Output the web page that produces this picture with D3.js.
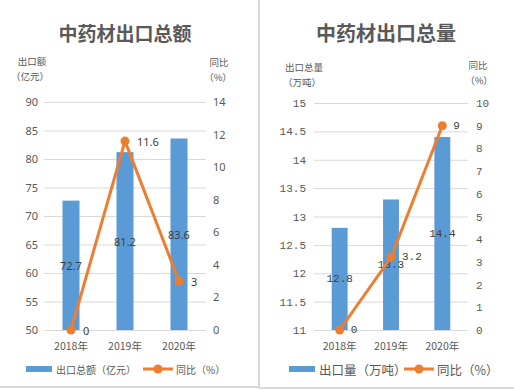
<!DOCTYPE html>
<html><head><meta charset="utf-8">
<script src="https://cdn.jsdelivr.net/npm/d3@7"></script>
<style>
html,body{margin:0;padding:0;background:#fff;}
svg{display:block;}
</style></head>
<body>
<script>
const years = ["2018年", "2019年", "2020年"];
const exportValue = [72.7, 81.2, 83.6];
const valueYoY = [0, 11.6, 3];
const exportVolume = [12.8, 13.3, 14.4];
const volumeYoY = [0, 3.2, 9];
const valueTicks = [50, 55, 60, 65, 70, 75, 80, 85, 90];
const valueYoYTicks = [0, 2, 4, 6, 8, 10, 12, 14];
const volumeTicks = [11, 11.5, 12, 12.5, 13, 13.5, 14, 14.5, 15];
const volumeYoYTicks = [0, 1, 2, 3, 4, 5, 6, 7, 8, 9, 10];

const W = 514, H = 390;
const BLUE = "#5B9BD5", ORANGE = "#ED7D31", GRID = "#D9D9D9", TXT = "#595959";
const CJK = "'Noto Sans CJK SC','Noto Sans',sans-serif";

const svg = d3.select("body").append("svg").attr("width", W).attr("height", H);

// panel borders
svg.append("line").attr("x1", 259).attr("x2", 259).attr("y1", 0).attr("y2", 389)
  .attr("stroke", GRID).attr("stroke-width", 2);
svg.append("line").attr("x1", 0).attr("x2", 259).attr("y1", 387).attr("y2", 387)
  .attr("stroke", GRID).attr("stroke-width", 2);
svg.append("line").attr("x1", 259).attr("x2", 514).attr("y1", 388).attr("y2", 388)
  .attr("stroke", GRID).attr("stroke-width", 2);

function drawChart(cfg) {
  const g = svg.append("g");
  const x = d3.scaleBand().domain(years).range([cfg.x0, cfg.x1]).padding(0);
  const yL = d3.scaleLinear().domain(cfg.lDomain).range([cfg.yBottom, cfg.yTop]);
  const yR = d3.scaleLinear().domain(cfg.rDomain).range([cfg.yBottom, cfg.yTop]);
  const numFont = cfg.numFont;

  // title
  g.append("text").attr("x", cfg.titleX).attr("y", 32).attr("text-anchor", "middle")
    .attr("dominant-baseline", "central")
    .style("font-family", CJK).style("font-size", cfg.titleSize + "px").style("font-weight", "bold")
    .attr("fill", TXT).text(cfg.title);

  // axis titles
  cfg.axisTitles.forEach(t => {
    g.append("text").attr("x", t.x).attr("y", t.y).attr("text-anchor", "middle")
      .attr("dominant-baseline", "central")
      .style("font-family", CJK).style("font-size", t.size + "px")
      .attr("fill", TXT).text(t.text);
  });

  // gridlines via axis
  const gridAxis = d3.axisLeft(yL).tickValues(cfg.lTicks).tickSize(-(cfg.x1 - cfg.x0)).tickFormat("");
  const gg = g.append("g").attr("transform", `translate(${cfg.x0},0)`).call(gridAxis);
  gg.select(".domain").remove();
  gg.selectAll(".tick line").attr("stroke", GRID).attr("stroke-width", 1);

  // left labels
  const la = d3.axisLeft(yL).tickValues(cfg.lTicks).tickSize(0).tickPadding(0)
    .tickFormat(d => String(d));
  const lg = g.append("g").attr("transform", `translate(${cfg.lLabelX},0)`).call(la);
  lg.select(".domain").remove();
  lg.selectAll("text").style("font-family", numFont).style("font-size", cfg.tickSize + "px").attr("fill", TXT);

  // right labels
  const ra = d3.axisRight(yR).tickValues(cfg.rTicks).tickSize(0).tickPadding(0)
    .tickFormat(d => String(d));
  const rg = g.append("g").attr("transform", `translate(${cfg.rLabelX},0)`).call(ra);
  rg.select(".domain").remove();
  rg.selectAll("text").style("font-family", numFont).style("font-size", cfg.tickSize + "px").attr("fill", TXT);

  // x labels
  const xa = d3.axisBottom(x).tickSize(0).tickPadding(0);
  const xg = g.append("g").attr("transform", `translate(0,${cfg.xLabelY})`).call(xa);
  xg.select(".domain").remove();
  xg.selectAll("text").style("font-family", CJK).style("font-size", cfg.xSize + "px").attr("fill", TXT);

  // bars
  const bw = x.bandwidth() * cfg.barFrac;
  g.selectAll(".bar").data(cfg.bars).join("rect")
    .attr("x", (d, i) => x(years[i]) + x.bandwidth() / 2 - bw / 2)
    .attr("y", d => yL(d))
    .attr("width", bw)
    .attr("height", d => yL(cfg.lDomain[0]) - yL(d))
    .attr("fill", BLUE);

  // bar labels (centered)
  g.selectAll(".blab").data(cfg.bars).join("text")
    .attr("x", (d, i) => x(years[i]) + x.bandwidth() / 2)
    .attr("y", d => (yL(d) + yL(cfg.lDomain[0])) / 2)
    .attr("text-anchor", "middle").attr("dominant-baseline", "central")
    .style("font-family", numFont).style("font-size", cfg.labelSize + "px").attr("fill", "#404040")
    .text(d => d);

  // line
  const line = d3.line().x((d, i) => x(years[i]) + x.bandwidth() / 2).y(d => yR(d));
  g.append("path").datum(cfg.line).attr("d", line).attr("fill", "none")
    .attr("stroke", ORANGE).attr("stroke-width", 3).attr("stroke-linejoin", "round");
  g.selectAll(".dot").data(cfg.line).join("circle")
    .attr("cx", (d, i) => x(years[i]) + x.bandwidth() / 2).attr("cy", d => yR(d))
    .attr("r", 4.5).attr("fill", ORANGE);
  g.selectAll(".llab").data(cfg.line).join("text")
    .attr("x", (d, i) => x(years[i]) + x.bandwidth() / 2 + cfg.lineLabelDx)
    .attr("y", d => yR(d)).attr("dominant-baseline", "central")
    .style("font-family", numFont).style("font-size", cfg.labelSize + "px").attr("fill", "#404040")
    .text(d => d);

  // legend
  const L = cfg.legend;
  g.append("rect").attr("x", L.rectX).attr("y", L.y - 3).attr("width", 26).attr("height", 6).attr("fill", BLUE);
  g.append("text").attr("x", L.rectX + 30).attr("y", L.y).attr("dominant-baseline", "central")
    .style("font-family", CJK).style("font-size", L.size + "px").attr("fill", TXT).text(L.barText);
  g.append("line").attr("x1", L.lineX).attr("x2", L.lineX + 30).attr("y1", L.y).attr("y2", L.y)
    .attr("stroke", ORANGE).attr("stroke-width", 3);
  g.append("circle").attr("cx", L.lineX + 15).attr("cy", L.y).attr("r", 4.5).attr("fill", ORANGE);
  g.append("text").attr("x", L.lineX + 33).attr("y", L.y).attr("dominant-baseline", "central")
    .style("font-family", CJK).style("font-size", L.size + "px").attr("fill", TXT).text(L.lineText);
}

drawChart({
  title: "中药材出口总额", titleX: 125, titleSize: 19,
  x0: 44, x1: 206, yTop: 102, yBottom: 330,
  lDomain: [50, 90], rDomain: [0, 14],
  lTicks: valueTicks, rTicks: valueYoYTicks,
  lLabelX: 38, rLabelX: 213, tickSize: 11, xSize: 10.5, xLabelY: 343,
  numFont: "'Noto Sans','Liberation Sans',sans-serif",
  barFrac: 0.315, bars: exportValue, line: valueYoY, labelSize: 11, lineLabelDx: 12,
  axisTitles: [
    {text: "出口额", x: 32, y: 61, size: 9.5},
    {text: "（亿元）", x: 30, y: 76, size: 9.5},
    {text: "同比", x: 219, y: 62, size: 9.5},
    {text: "（%）", x: 218, y: 77, size: 9.5}
  ],
  legend: {rectX: 26, y: 369, size: 10, barText: "出口总额（亿元）", lineX: 143, lineText: "同比（%）"}
});

drawChart({
  title: "中药材出口总量", titleX: 386, titleSize: 20,
  x0: 314, x1: 468, yTop: 103, yBottom: 330,
  lDomain: [11, 15], rDomain: [0, 10],
  lTicks: volumeTicks, rTicks: volumeYoYTicks,
  lLabelX: 306, rLabelX: 476, tickSize: 11, xSize: 10.5, xLabelY: 343,
  numFont: "'Liberation Mono','DejaVu Sans Mono',monospace",
  barFrac: 0.31, bars: exportVolume, line: volumeYoY, labelSize: 11, lineLabelDx: 11,
  axisTitles: [
    {text: "出口总量", x: 304, y: 67, size: 9.5},
    {text: "（万吨）", x: 302, y: 82, size: 9.5},
    {text: "同比", x: 478, y: 65, size: 9.5},
    {text: "（%）", x: 479, y: 80, size: 9.5}
  ],
  legend: {rectX: 289, y: 369, size: 12.5, barText: "出口量（万吨）", lineX: 404, lineText: "同比（%）"}
});
</script>
</body></html>
